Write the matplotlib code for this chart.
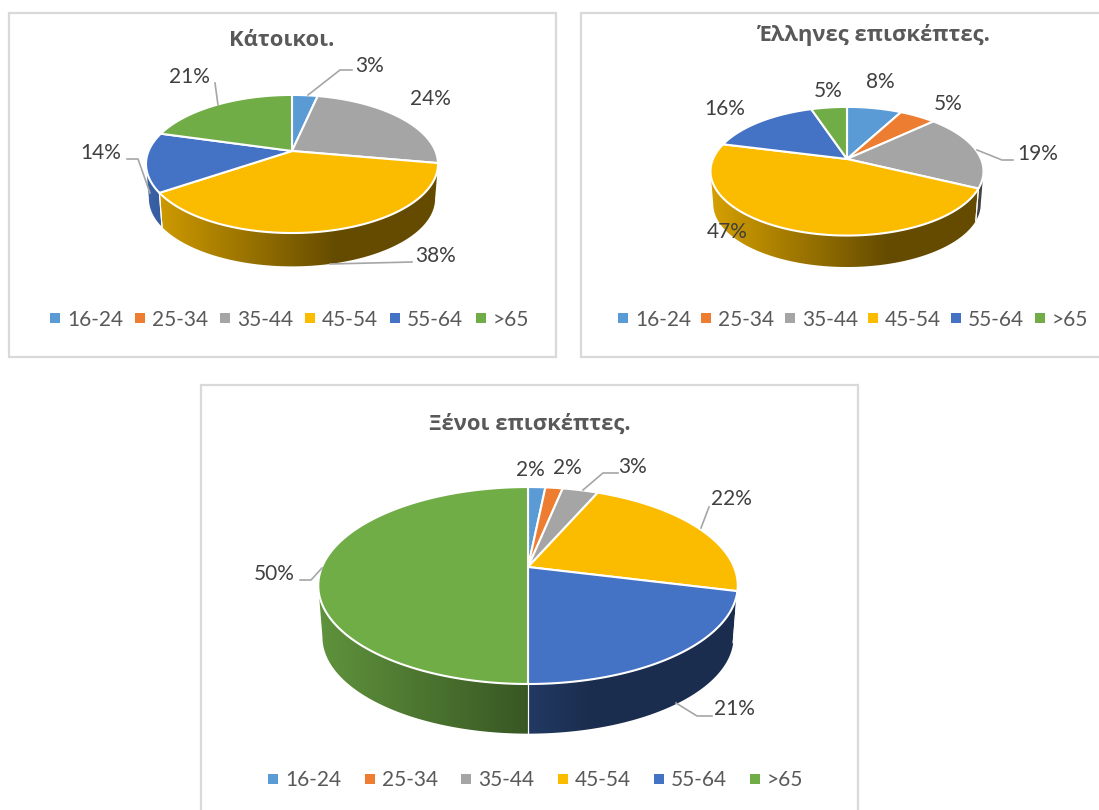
import numpy as np
import matplotlib
matplotlib.use("Agg")
import matplotlib.pyplot as plt
from matplotlib.patches import Polygon, Rectangle

# font: Lato is the closest to the Calibri of the original, the rest catch the Greek letters
plt.rcParams["font.family"] = ["Lato", "Open Sans", "DejaVu Sans"]

# data of the three charts, the labels show them rounded
age_groups = ["16-24", "25-34", "35-44", "45-54", "55-64", ">65"]
residents = [3.4, 0, 24.4, 37.7, 13.9, 20.6]
greek_visitors = [7.8, 5.2, 19.2, 46.8, 15.9, 5.1]
foreign_visitors = [1.6, 1.6, 3.3, 22.4, 21.1, 50]
titles = ["Κάτοικοι.", "Έλληνες επισκέπτες.", "Ξένοι επισκέπτες."]

colors = ["#5B9BD5", "#ED7D31", "#A5A5A5", "#FBBC00", "#4472C4", "#70AD47"]
text_color = "#404040"
title_color = "#595959"
leader_color = "#A6A6A6"
frame_color = "#D9D9D9"

# layout in pixels of the picture
frames = [(9, 13, 547, 344), (581, 13, 530, 344), (201, 385, 657, 440)]
title_pos = [(282, 41), (873, 35), (530, 424)]
# apex x, apex y, half width, half height, perspective, depth
pies = [(292, 151, 143.4, 66.6, 0.188, 35),
        (847, 159, 134, 62, 0.19, 33),
        (528, 567, 206, 95, 0.188, 52)]
label_pos = [[(370, 66), None, (430, 99), (436, 256), (101, 153), (189, 77)],
             [(880, 82), (948, 104), (1038, 154), (727, 232), (725, 109), (828, 91)],
             [(530, 470), (567, 468), (633, 467), (731, 499), (734, 709), (274, 574)]]
leaders = [[[(308, 95), (340, 70), (352, 70)], [(330, 264), (412, 262)],
            [(127, 159), (138, 159), (150, 193)], [(215, 83), (218, 105)]],
           [[(977, 150), (1002, 160), (1013, 160)]],
           [[(583, 490), (603, 473), (618, 473)], [(701, 528), (709, 507)],
            [(676, 703), (697, 716), (712, 716)], [(322, 568), (311, 580), (300, 580)]]]
legend_x = [[55, 140, 225, 310, 395, 481],
            [623, 706, 790, 873, 956, 1040],
            [273, 370, 466, 563, 659, 755]]
legend_y = [318, 318, 779]


# top rim of the pie, angle in radians clockwise from the top
def rim(pie, angle, scale=1.0, drop=0):
    cx, cy, a, b, k, depth = pie
    u = np.sin(angle)
    v = np.cos(angle)
    x = cx + scale * a * u / (1 + k * v)
    y = cy - scale * b * v / (1 + k * v) + drop
    return x, y


def draw_pie(ax, values, pie):
    depth = pie[5]
    edges = np.cumsum([0] + values) / sum(values) * 2 * np.pi
    circle = rim(pie, np.linspace(0, 2 * np.pi, 721))[0]
    left = circle.min()
    right = circle.max()
    # only this part of the rim has a side that can be seen
    front_from = np.pi / 2 + np.arcsin(pie[4])
    front_to = 3 * np.pi / 2 - np.arcsin(pie[4])

    # the sides
    for i in range(len(values)):
        start = max(edges[i], front_from)
        stop = min(edges[i + 1], front_to)
        if values[i] == 0 or start >= stop:
            continue
        t = np.linspace(start, stop, 200)
        x1, y1 = rim(pie, t)
        x2, y2 = rim(pie, t, 0.98, depth)
        side = Polygon(np.column_stack([np.r_[x1, x2[::-1]], np.r_[y1, y2[::-1]]]),
                       facecolor="none", edgecolor="none")
        ax.add_patch(side)
        # dark gradient running from left to right over the whole pie
        shade = np.interp(np.linspace(0, 1, 256), [0, 0.65, 1], [0.85, 0.4, 0.4])
        rgb = np.array(matplotlib.colors.to_rgb(colors[i]))
        img = ax.imshow(shade[None, :, None] * rgb, extent=(left, right, y2.max() + 2, y1.min() - 2),
                        aspect="auto", zorder=2)
        img.set_clip_path(side)
        # white seam between two sides
        for angle in (edges[i], edges[i + 1]):
            if front_from < angle < front_to:
                p1 = rim(pie, angle)
                p2 = rim(pie, angle, 0.98, depth)
                ax.plot([p1[0], p2[0]], [p1[1], p2[1]], color="white", lw=0.8, zorder=2.1)

    # the top face
    for i in range(len(values)):
        if values[i] == 0:
            continue
        t = np.linspace(edges[i], edges[i + 1], 200)
        x1, y1 = rim(pie, t)
        ax.fill(np.r_[pie[0], x1], np.r_[pie[1], y1], facecolor=colors[i], edgecolor="white",
                lw=1.5, joinstyle="round", zorder=3)


fig = plt.figure(figsize=(10.99, 8.10), dpi=100)
ax = fig.add_axes([0, 0, 1, 1])

all_values = [residents, greek_visitors, foreign_visitors]
for n in range(3):
    values = all_values[n]
    x, y, w, h = frames[n]
    ax.add_patch(Rectangle((x, y), w, h, facecolor="white", edgecolor=frame_color, lw=1.6, zorder=1))
    ax.text(title_pos[n][0], title_pos[n][1], titles[n], ha="center", va="center",
            fontsize=15.8, fontweight="bold", family=["Open Sans", "DejaVu Sans"],
            color=title_color, zorder=5)

    draw_pie(ax, values, pies[n])

    for line in leaders[n]:
        xs, ys = zip(*line)
        ax.plot(xs, ys, color=leader_color, lw=1.2, zorder=4)

    for value, pos in zip(values, label_pos[n]):
        if pos is not None:
            ax.text(pos[0], pos[1], f"{value:.0f}%", ha="center", va="center",
                    fontsize=15, color=text_color, zorder=5)

    # legend drawn by hand, the squares sit tight against the text
    for i in range(len(age_groups)):
        ax.scatter(legend_x[n][i], legend_y[n], marker="s", s=42, color=colors[i], lw=0, zorder=5)
        ax.text(legend_x[n][i] + 12, legend_y[n] + 1.5, age_groups[i], ha="left", va="center",
                fontsize=15, color="#595959", zorder=5)

ax.set_xlim(0, 1099)
ax.set_ylim(810, 0)
ax.axis("off")

fig.savefig("out.png", dpi=100)
